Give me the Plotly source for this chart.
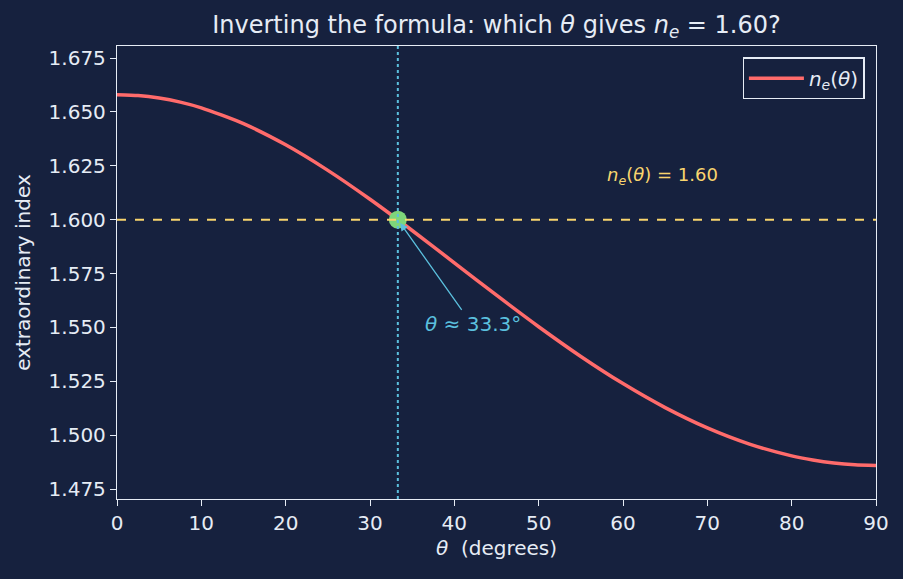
import plotly.graph_objects as go

theta_deg = [0, 2.5, 5, 7.5, 10, 15, 20, 25, 30, 35, 40, 45, 50, 55, 60, 65, 70, 75, 80, 82.5, 85, 87.5, 90]
n_e = [1.65800, 1.65761, 1.65646, 1.65456, 1.65192, 1.64456, 1.63475, 1.62289, 1.60947, 1.59500,
       1.58000, 1.56496, 1.55034, 1.53655, 1.52395, 1.51282, 1.50340, 1.49589,
       1.49043, 1.48850, 1.48711, 1.48628, 1.48600]
target_n = 1.60
theta_sol = 33.3
y_ticks = [1.475, 1.500, 1.525, 1.550, 1.575, 1.600, 1.625, 1.650, 1.675]
x_ticks = [0, 10, 20, 30, 40, 50, 60, 70, 80, 90]

BG = "#16213e"
FG = "#e6ecf5"
RED = "#ff6b6b"
YEL = "#f9d56e"
CYAN = "#5bc0de"
GREEN = "#7ed67a"
FONT = "DejaVu Sans"

fig = go.Figure()
fig.add_trace(go.Scatter(x=theta_deg, y=n_e, mode="lines", line=dict(color=RED, width=3.5, shape="spline", smoothing=0.6),
                         name="<i>n<sub>e</sub></i>(<i>θ</i>)"))
fig.add_hline(y=target_n, line=dict(color=YEL, width=2, dash="dash"))
fig.add_vline(x=theta_sol, line=dict(color=CYAN, width=2, dash="dot"))
fig.add_trace(go.Scatter(x=[theta_sol], y=[target_n], mode="markers",
                         marker=dict(color=GREEN, size=18, line=dict(width=0)), showlegend=False))
fig.add_annotation(x=theta_sol, y=target_n, ax=41, ay=1.5575, axref="x", ayref="y",
                   text="", showarrow=True, arrowhead=2, arrowsize=1.2, arrowwidth=1.3, arrowcolor=CYAN,
                   standoff=4)
fig.add_annotation(x=36.3, y=1.5515, text="<i>θ</i> ≈ 33.3°", showarrow=False, xanchor="left",
                   font=dict(color=CYAN, size=20, family=FONT))
fig.add_annotation(x=57.9, y=1.6205, text="<i>n<sub>e</sub></i>(<i>θ</i>) = 1.60", showarrow=False, xanchor="left",
                   font=dict(color=YEL, size=18, family=FONT))

axis_common = dict(showgrid=False, zeroline=False, showline=True, linecolor=FG, linewidth=1.3, mirror=True,
                   ticks="outside", ticklen=6, tickcolor=FG, tickwidth=1.3, tickfont=dict(color=FG, size=20, family=FONT))
fig.update_xaxes(range=[0, 90], tickvals=x_ticks, title=dict(text="<i>θ</i>  (degrees)", font=dict(color=FG, size=20, family=FONT), standoff=6), **axis_common)
fig.update_yaxes(range=[1.4704, 1.6806], tickvals=y_ticks, tickformat=".3f",
                 title=dict(text="extraordinary index", font=dict(color=FG, size=20, family=FONT), standoff=12), **axis_common)

fig.update_layout(
    width=903, height=579, paper_bgcolor=BG, plot_bgcolor=BG,
    margin=dict(l=117, r=27, t=46, b=80),
    title=dict(text="Inverting the formula: which <i>θ</i> gives <i>n<sub>e</sub></i> = 1.60?", x=0.5, xref="paper", xanchor="center",
               y=0.958, yanchor="middle", font=dict(color=FG, size=24, family=FONT)),
    legend=dict(x=0.985, y=0.975, xanchor="right", yanchor="top", bgcolor=BG, bordercolor=FG, borderwidth=1.3,
                itemwidth=55, font=dict(color=FG, size=20, family=FONT)),
    font=dict(family=FONT, color=FG),
)
fig.write_html("out.html")
